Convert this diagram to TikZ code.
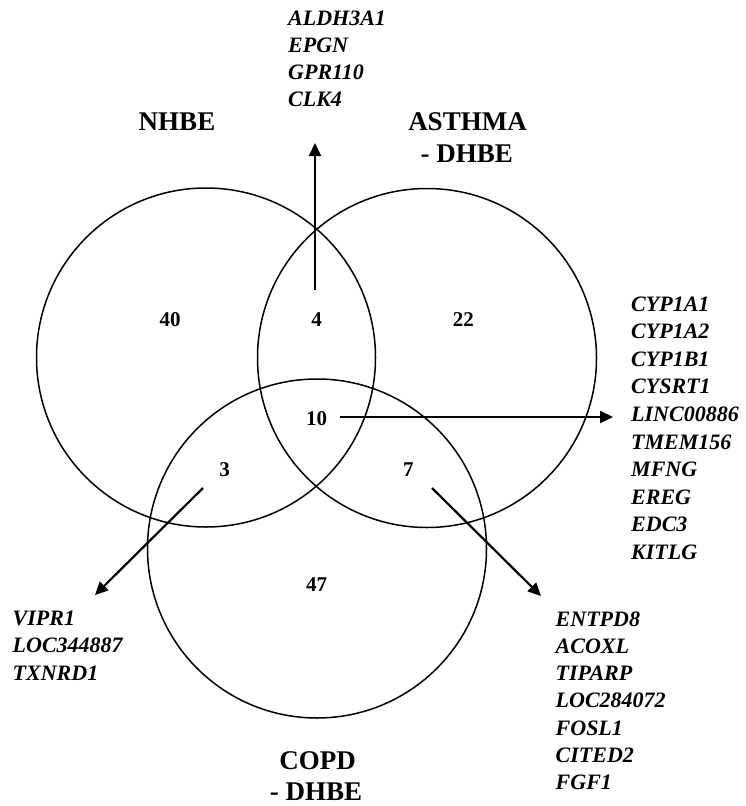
\documentclass[tikz,border=0pt]{standalone}
\usepackage{fontspec}
\setmainfont{Liberation Serif}
\usetikzlibrary{arrows.meta}
\tikzset{
  venn/.style={draw=black, line width=1.5pt, circle, minimum size=339pt, inner sep=0pt},
  title/.style={font=\fontsize{27}{30}\selectfont\bfseries, inner sep=0pt, anchor=center},
  count/.style={font=\fontsize{21}{24}\selectfont\bfseries, inner sep=0pt, anchor=center},
  gene/.style={font=\fontsize{22}{27}\selectfont\bfseries\itshape, inner sep=0pt, anchor=base west},
  pointer/.style={line width=2.2pt, -{Triangle[width=12pt,length=13pt]}}
}
\begin{document}
\begin{tikzpicture}[x=1pt,y=-1pt]
\useasboundingbox (0,0) rectangle (745,806);
% circles
\node[venn] (nhbe) at (206,357.5) {};
\node[venn] (asthma) at (427,358) {};
\node[venn] (copd) at (317,548.5) {};
% titles
\node[title] (tn) at (177,121.7) {NHBE};
\node[title] (ta1) at (467.5,121.7) {ASTHMA};
\node[title] (ta2) at (466.7,153.3) {- DHBE};
\node[title] (tc1) at (317.7,761) {COPD};
\node[title] (tc2) at (316,791.5) {- DHBE};
% counts
\node[count] (n40) at (170,320) {40};
\node[count] (n4) at (316.7,320) {4};
\node[count] (n22) at (463.3,320) {22};
\node[count] (n10) at (316.7,418.3) {10};
\node[count] (n3) at (224.5,470) {3};
\node[count] (n7) at (408.3,470) {7};
\node[count] (n47) at (316.7,585) {47};
% arrow ends
\coordinate (aus) at (315,290);
\coordinate (aue) at (315,143);
\coordinate (ars) at (340,417);
\coordinate (are) at (613,417);
\coordinate (als) at (203,488);
\coordinate (ale) at (95,595);
\coordinate (abs) at (432,488);
\coordinate (abe) at (541,596);
\draw[pointer] (aus) -- (aue);
\draw[pointer] (ars) -- (are);
\draw[pointer] (als) -- (ale);
\draw[pointer] (abs) -- (abe);
% gene lists
\foreach \g [count=\i] in {ALDH3A1,EPGN,GPR110,CLK4}
  \node[gene] (top\i) at (288,{25+27.2*(\i-1)}) {\g};
\foreach \g [count=\i] in {CYP1A1,CYP1A2,CYP1B1,CYSRT1,LINC00886,TMEM156,MFNG,EREG,EDC3,KITLG}
  \node[gene] (rt\i) at (631,{311+27.6*(\i-1)}) {\g};
\foreach \g [count=\i] in {VIPR1,LOC344887,TXNRD1}
  \node[gene] (bl\i) at (12.5,{625+27.5*(\i-1)}) {\g};
\foreach \g [count=\i] in {ENTPD8,ACOXL,TIPARP,LOC284072,FOSL1,CITED2,FGF1}
  \node[gene] (br\i) at (555.5,{626+27.3*(\i-1)}) {\g};
\end{tikzpicture}
\end{document}
